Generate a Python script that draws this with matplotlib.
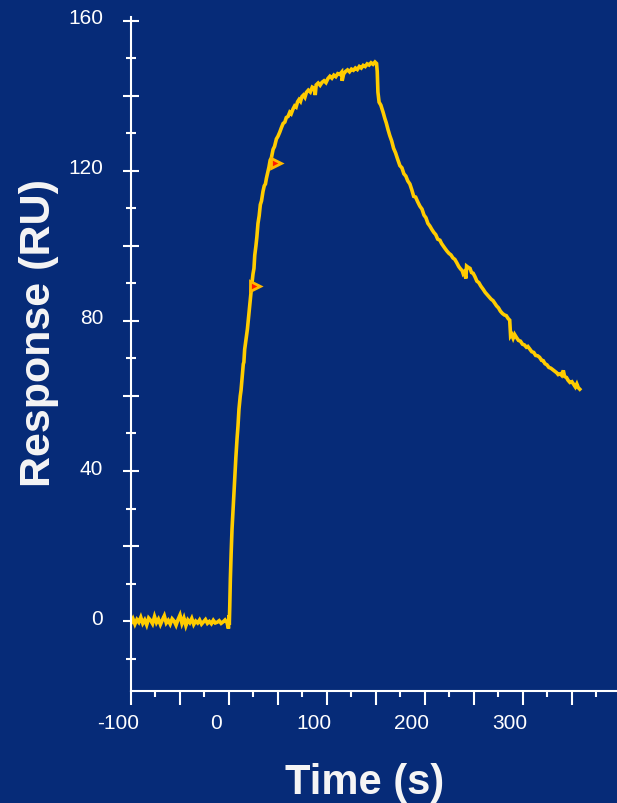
import matplotlib
matplotlib.use('Agg')
import matplotlib.pyplot as plt
from matplotlib.transforms import ScaledTranslation

plt.rcParams['font.family'] = ['Liberation Sans', 'DejaVu Sans']

# 数据：基线 / 结合 / 解离 (t 秒, RU)
base_t = [-100, -98, -96, -94, -92, -90, -88, -86, -84, -82, -80, -78, -76, -74, -72, -70,
          -68, -66, -64, -62, -60, -58, -56, -54, -52, -50, -48, -46, -44, -42, -40, -38,
          -36, -34, -32, -30, -28, -26, -24, -22, -20, -18, -16, -14, -12, -10, -8, -6,
          -4, -2, -0.5, 0.0, 0.3]
base_v = [-0.5, 0.6, -0.8, 0.4, -0.3, 1.0, -0.6, 0.3, -1.0, 0.8, 0.2, -0.7, 1.2, -0.4, 0.5, -0.9,
          0.3, 1.4, -0.5, 0.2, -0.8, 0.6, 0.0, -1.1, 0.4, 1.6, -0.6, 0.8, -1.2, 0.3, -0.4, 0.7,
          -0.9, 0.0, -0.5, 0.3, -0.8, -0.2, 0.4, -0.6, -0.1, -0.7, 0.2, -0.5, -0.3, 0.1, -0.6, -0.2,
          0.3, -0.4, -2.0, 1.5, -1.0]

assoc_t = [0.8, 1.4, 2.2, 3.1, 4.5, 5.8, 7.0, 8.2, 9.2, 10.2, 11.5, 12.3, 13.3, 14.6, 15.2, 16.0,
           17.4, 18.8, 20.0, 21.0, 22.0, 23.0, 24.5, 25.5, 26.3, 27.5, 28.5, 29.6, 30.8, 32.0, 33.2,
           34.7, 36.0, 37.2, 38.2, 39.5, 40.8, 42.0, 43.3, 45.0, 46.5, 48.4, 50.0, 51.8, 53.5, 55.2,
           57.0, 58.5, 60.3, 62.0, 63.5, 65.4, 67.0, 68.5, 70.0, 71.5, 73.0, 74.5, 76.0, 77.5, 79.0,
           81.0, 83.0, 85.0, 87.0, 88.0, 89.0, 91.0, 93.0, 95.0, 97.0, 99.0, 101.0, 103.0, 105.0,
           107.0, 109.0, 111.0, 113.0, 115.0, 115.5, 117.0, 119.0, 121.0, 123.0, 125.0, 127.0, 129.0,
           131.0, 133.0, 135.0, 137.0, 139.0, 141.0, 143.0, 145.0, 147.0, 149.0, 150.6]
assoc_v = [4.0, 11.2, 18.0, 24.5, 31.5, 37.8, 43.5, 48.5, 52.0, 56.5, 60.0, 61.5, 64.4, 68.5, 69.0, 72.4,
           75.0, 77.8, 81.0, 83.5, 86.5, 89.0, 92.5, 94.0, 97.5, 100.0, 102.5, 106.0, 108.0, 111.0, 112.0,
           114.5, 116.0, 116.5, 118.0, 119.5, 121.0, 122.8, 123.5, 125.7, 126.5, 128.5, 129.2, 130.3, 131.5, 132.6,
           133.0, 134.2, 134.5, 135.6, 135.2, 136.5, 137.3, 137.0, 138.4, 139.0, 138.5, 139.8, 140.2, 139.6, 140.9,
           141.5, 141.0, 142.3, 142.0, 140.2, 142.9, 143.4, 142.8, 143.6, 144.0, 143.5, 144.6, 145.2, 144.7,
           145.5, 145.1, 145.9, 145.7, 146.3, 144.0, 145.8, 146.5, 146.9, 146.4, 147.1, 146.8, 147.4,
           147.0, 147.8, 147.4, 148.1, 147.8, 148.5, 148.2, 148.8, 148.4, 149.0, 148.6]

dissoc_t = [151.3, 152.0, 153.2, 155.0, 157.3, 159.0, 160.5, 162.3, 164.1, 166.0, 168.0, 170.0, 172.0,
            174.4, 176.5, 178.5, 180.5, 182.5, 184.6, 186.5, 188.5, 190.5, 192.5, 194.8, 197.0, 199.0,
            201.0, 203.0, 205.0, 207.0, 209.0, 211.0, 213.0, 215.3, 217.0, 218.6, 220.5, 222.5, 224.5,
            226.5, 228.5, 230.5, 232.5, 234.5, 236.5, 238.0, 239.0, 240.2, 241.8, 242.5, 244.0, 246.0,
            247.5, 249.2, 251.0, 253.0, 255.0, 257.0, 259.5, 261.5, 263.5, 265.5, 267.5, 269.5, 271.5,
            273.1, 275.0, 277.0, 279.0, 281.0, 283.0, 285.0, 286.5, 287.4, 288.5, 290.0, 291.5, 293.6,
            295.5, 297.5, 299.5, 301.5, 303.5, 305.0, 307.0, 309.0, 311.0, 313.0, 315.0, 317.0, 319.0,
            320.7, 322.5, 324.5, 326.5, 328.5, 330.5, 332.5, 334.4, 336.0, 338.0, 339.5, 341.2, 342.5,
            344.5, 346.0, 348.0, 350.0, 352.0, 353.5, 355.0, 356.5, 358.0]
dissoc_v = [146.5, 141.0, 138.3, 137.5, 135.6, 134.0, 132.8, 131.0, 129.4, 128.0, 126.0, 124.8, 123.2,
            121.4, 120.8, 119.2, 118.6, 117.3, 116.5, 115.0, 113.2, 113.0, 111.8, 110.6, 109.8, 108.2,
            107.5, 106.0, 105.3, 104.4, 103.6, 103.0, 101.8, 101.5, 100.6, 100.0, 99.3, 98.6, 98.0,
            97.6, 96.8, 96.4, 95.5, 94.5, 93.8, 93.4, 92.6, 93.0, 91.3, 94.6, 94.3, 94.0,
            92.9, 92.7, 91.8, 90.6, 90.2, 89.3, 88.4, 87.6, 87.0, 86.4, 85.8, 85.4, 84.6,
            84.0, 83.5, 82.6, 82.0, 81.6, 81.4, 80.6, 80.2, 76.0, 76.4, 75.4, 76.4, 75.5,
            74.8, 74.6, 73.8, 73.6, 73.0, 73.2, 72.5, 71.8, 71.6, 70.8, 70.7, 70.3, 69.5,
            69.4, 68.6, 68.3, 67.6, 67.4, 67.0, 66.6, 66.2, 65.7, 65.9, 65.5, 66.8, 65.2,
            64.9, 64.2, 63.6, 63.8, 63.0, 62.4, 63.2, 62.2, 61.8]

# 红色三角标记
mark_t = [26.3, 48.4]
mark_v = [89.3, 122.2]

x_ticks = [-100, -50, 0, 50, 100, 150, 200, 250, 300, 350]
x_labels = ['-100', '', '0', '', '100', '', '200', '', '300', '']
y_ticks = [0, 20, 40, 60, 80, 100, 120, 140, 160]
y_labels = ['0', '', '40', '', '80', '', '120', '', '160']

bg = '#062b78'
fig = plt.figure(figsize=(6.17, 8.04), dpi=100, facecolor=bg)
ax = fig.add_axes([131/617, 1 - 691.5/804, 486/617, 673.5/804], facecolor=bg)

t = base_t + assoc_t + dissoc_t
v = base_v + assoc_v + dissoc_v
ax.plot(t, v, color='#ffcc00', lw=2.6, solid_joinstyle='miter')
ax.plot(mark_t, mark_v, linestyle='none', marker='>', ms=7.5, mfc='#ff1a00', mec='#ffb800', mew=2)

ax.set_xlim(-100, 396)
ax.set_ylim(-18.5, 161)

for s in ['top', 'right']:
    ax.spines[s].set_visible(False)
for s in ['left', 'bottom']:
    ax.spines[s].set_color('white')
    ax.spines[s].set_linewidth(1.5)

ax.set_xticks(x_ticks)
ax.set_xticklabels(x_labels)
ax.set_xticks([-75, -25, 25, 75, 125, 175, 225, 275, 325, 375], minor=True)
ax.set_yticks(y_ticks)
ax.set_yticklabels(y_labels)
ax.set_yticks([-10, 10, 30, 50, 70, 90, 110, 130, 150], minor=True)

ax.tick_params(axis='x', which='major', direction='out', length=10, width=1.5, color='white',
               labelcolor='white', labelsize=15, pad=6)
ax.tick_params(axis='x', which='minor', direction='out', length=4, width=1.5, color='white')
ax.tick_params(axis='y', which='major', direction='inout', length=12, width=1.5, color='white',
               labelcolor='white', labelsize=15, pad=14)
ax.tick_params(axis='y', which='minor', direction='inout', length=7, width=1.5, color='white')

# 刻度标签位置微调（原图标签略偏）
for lab in ax.get_xticklabels():
    lab.set_transform(lab.get_transform() + ScaledTranslation(-0.13, 0, fig.dpi_scale_trans))
for lab in ax.get_yticklabels():
    lab.set_transform(lab.get_transform() + ScaledTranslation(0, 0.05, fig.dpi_scale_trans))

ax.set_ylabel('Response (RU)', fontsize=31, fontweight='bold', color='#f5f5f5', va='center')
ax.yaxis.set_label_coords(-0.19, 0.533)
ax.set_xlabel('Time (s)', fontsize=30, fontweight='bold', color='#f5f5f5', va='center')
ax.xaxis.set_label_coords(0.4815, -0.136)

fig.savefig('out.png', dpi=100, facecolor=bg)
